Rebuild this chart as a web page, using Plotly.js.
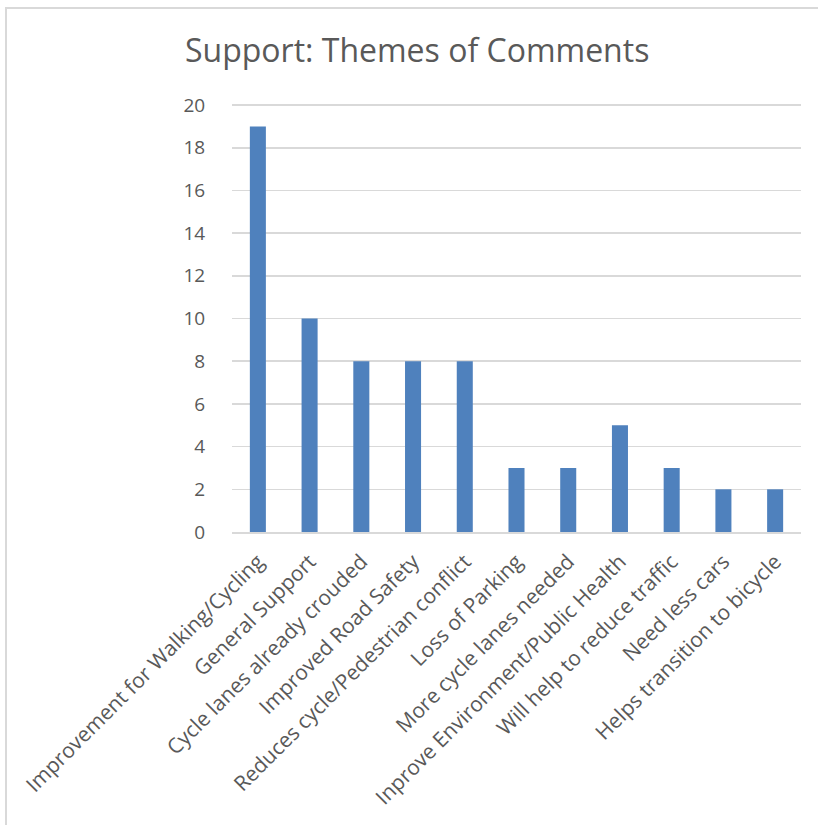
<!DOCTYPE html>
<html>
<head>
<meta charset="utf-8">
<script src="https://cdn.plot.ly/plotly-3.0.1.min.js"></script>
<style>
body{margin:0;padding:0;background:#fff;overflow:hidden;}
#wrap{position:relative;width:818px;height:825px;overflow:hidden;}
#frame{position:absolute;left:5px;top:7px;width:900px;height:900px;border:2px solid #d9d9d9;box-sizing:border-box;}
#chart{position:absolute;left:0;top:0;width:818px;height:825px;}
</style>
</head>
<body>
<div id="wrap"><div id="frame"></div><div id="chart"></div></div>
<script>
const categories = [
  "Improvement for Walking/Cycling",
  "General Support",
  "Cycle lanes already crouded",
  "Improved Road Safety",
  "Reduces cycle/Pedestrian conflict",
  "Loss of Parking",
  "More cycle lanes needed",
  "Inprove Environment/Public Health",
  "Will help to reduce traffic",
  "Need less cars",
  "Helps transition to bicycle"
];
const counts = [19, 10, 8, 8, 8, 3, 3, 5, 3, 2, 2];
const yTicks = [0, 2, 4, 6, 8, 10, 12, 14, 16, 18, 20];

const fontFam = "Open Sans, Noto Sans, sans-serif";
Plotly.newPlot("chart", [{
  type: "bar",
  x: categories,
  y: counts,
  marker: {color: "#4f81bd"},
  hoverinfo: "x+y"
}], {
  width: 818, height: 825,
  margin: {l: 232, r: 17, t: 104, b: 293},
  paper_bgcolor: "rgba(0,0,0,0)",
  plot_bgcolor: "rgba(0,0,0,0)",
  bargap: 0.69,
  showlegend: false,
  title: {text: "Support: Themes of Comments", x: 0.51, xref: "container", xanchor: "center", y: 0.939, yref: "container", yanchor: "middle",
          font: {family: fontFam, size: 32, color: "#595959"}},
  xaxis: {type: "category", tickangle: -45, tickfont: {family: fontFam, size: 21, color: "#595959"},
          showline: true, linecolor: "#d9d9d9", linewidth: 2, ticks: "outside", ticklen: 7, tickcolor: "rgba(0,0,0,0)", showgrid: false, automargin: false},
  yaxis: {range: [0, 20.05], tickvals: yTicks, ticktext: yTicks.map(String), showgrid: true, gridcolor: "#d9d9d9", gridwidth: 1.5,
          zeroline: false, showline: false, ticks: "outside", ticklen: 22, tickcolor: "rgba(0,0,0,0)",
          tickfont: {family: fontFam, size: 19, color: "#595959"}, automargin: false}
}, {displayModeBar: false, staticPlot: true});
</script>
</body>
</html>
